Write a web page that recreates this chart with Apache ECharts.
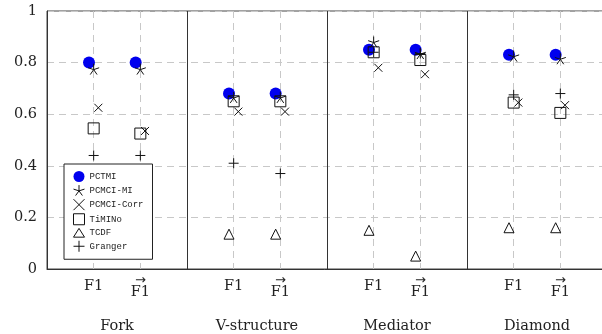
<!DOCTYPE html>
<html>
<head>
<meta charset="utf-8">
<script src="https://cdn.jsdelivr.net/npm/echarts@6/dist/echarts.min.js"></script>
<style>
  html, body { margin: 0; padding: 0; background: #fff; }
  #main { width: 602px; height: 334px; }
</style>
</head>
<body>
<div id="main"></div>
<script>
// structures, two metrics each (F1 and oriented F1)
const groups = ["Fork", "V-structure", "Mediator", "Diamond"];
const metrics = ["F1", "F1arrow"];

// one value per (group, metric): Fork F1, Fork F1->, V F1, V F1->, ...
const pctmi = [0.80, 0.80, 0.68, 0.68, 0.85, 0.85, 0.83, 0.83];
const pcmciMi = [0.775, 0.775, 0.665, 0.665, 0.88, 0.835, 0.825, 0.815];
const pcmciCorr = [0.625, 0.535, 0.61, 0.61, 0.78, 0.755, 0.645, 0.635];
const timino = [0.545, 0.525, 0.65, 0.65, 0.84, 0.81, 0.645, 0.605];
const tcdf = [null, null, 0.135, 0.135, 0.15, 0.05, 0.16, 0.16];
const granger = [0.44, 0.44, 0.41, 0.37, 0.84, 0.835, 0.675, 0.68];

// marker shapes (path symbols, stroked only)
const STAR = "path://M0,0L0,-1M0,0L0.951,-0.309M0,0L0.588,0.809M0,0L-0.588,0.809M0,0L-0.951,-0.309";
const CROSS = "path://M-1,-1L1,1M-1,1L1,-1";
const PLUS = "path://M-1,0L1,0M0,-1L0,1";
const SQUARE = "path://M-1,-1L1,-1L1,1L-1,1Z";
const TRI = "path://M0,-1L1,0.6L-1,0.6Z";

const serif = "DejaVu Serif";

function toPoints(values, dx) {
  const pts = [];
  values.forEach(function (v, i) {
    if (v === null) return;
    const g = Math.floor(i / metrics.length);
    const m = i % metrics.length;
    pts.push([g * 3 + 1 + m + dx, v]);
  });
  return pts;
}

const hollow = { color: "rgba(0,0,0,0)", borderColor: "#111", borderWidth: 1, opacity: 1 };

function mkSeries(name, values, symbol, size, dx, style) {
  return {
    name: name,
    type: "scatter",
    xAxisIndex: 0,
    data: toPoints(values, dx),
    symbol: symbol,
    symbolSize: size,
    itemStyle: style,
    emphasis: { disabled: true },
  };
}

const option = {
  animation: false,
  backgroundColor: "#fff",
  grid: {
    left: 47, top: 11, width: 560, height: 258,
    outerBoundsMode: "none",
    containLabel: false,
    show: true, borderColor: "#444", borderWidth: 1,
  },
  legend: {
    orient: "vertical",
    left: 64, top: 164,
    padding: [7, 9, 7, 9],
    itemWidth: 11, itemHeight: 11, itemGap: 2.6,
    backgroundColor: "#fff",
    borderColor: "#222", borderWidth: 1,
    itemStyle: { borderWidth: 1 },
    textStyle: { fontFamily: "Liberation Mono", fontSize: 9, color: "#222" },
    data: ["PCTMI", "PCMCI-MI", "PCMCI-Corr", "TiMINo", "TCDF", "Granger"],
  },
  xAxis: [
    {
      type: "value", min: 0, max: 12, interval: 1,
      axisLine: { show: true, lineStyle: { color: "#333" } },
      axisTick: { show: false },
      splitLine: { show: true, lineStyle: { color: "#c8c8c8", type: [7, 5] } },
      axisLabel: {
        margin: 9,
        color: "#222",
        fontFamily: serif,
        fontSize: 14.5,
        formatter: function (v) {
          const k = Math.round(v) % 3;
          if (k === 1) return "{f|F1}";
          if (k === 2) return "{a|→}\n{f|F1}";
          return "";
        },
        rich: {
          f: { fontFamily: serif, fontSize: 14.5, lineHeight: 16, color: "#222" },
          a: { fontFamily: "DejaVu Sans", fontSize: 13, lineHeight: 6, color: "#222" },
        },
      },
    },
    {
      type: "category", data: groups, position: "bottom",
      axisLine: { show: false },
      axisTick: { show: false },
      splitLine: { show: true, interval: 0, lineStyle: { color: "#333", width: 1 } },
      axisLabel: { margin: 50, color: "#222", fontFamily: serif, fontSize: 14.5, interval: 0 },
    },
  ],
  yAxis: {
    type: "value", min: 0, max: 1, interval: 0.2,
    axisLine: { show: true, lineStyle: { color: "#333" } },
    axisTick: { show: false },
    splitLine: { show: true, lineStyle: { color: "#c8c8c8", type: [7, 5] } },
    axisLabel: { margin: 10, color: "#222", fontFamily: serif, fontSize: 14.5 },
  },
  series: [
    mkSeries("PCTMI", pctmi, "circle", 12, -0.1, { color: "#0000ee", opacity: 1 }),
    mkSeries("PCMCI-MI", pcmciMi, STAR, 11, 0, hollow),
    mkSeries("PCMCI-Corr", pcmciCorr, CROSS, 8, 0.1, hollow),
    mkSeries("TiMINo", timino, SQUARE, 11, 0, hollow),
    mkSeries("TCDF", tcdf, TRI, 10, -0.1, hollow),
    mkSeries("Granger", granger, PLUS, 10, 0, hollow),
  ],
};

const myChart = echarts.init(document.getElementById("main"));
myChart.setOption(option);
</script>
</body>
</html>
